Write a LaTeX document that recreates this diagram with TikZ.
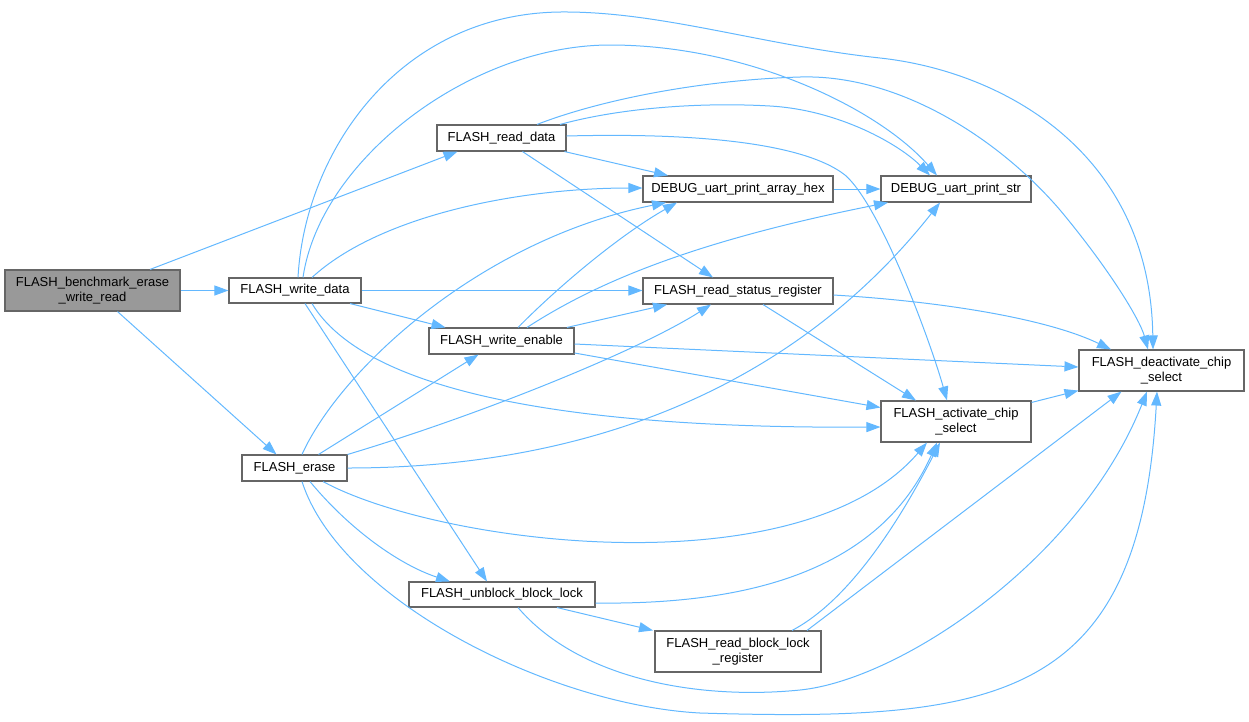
\documentclass[tikz,border=0pt]{standalone}
\usepackage{fontspec}
\setmainfont{Liberation Sans}
\usetikzlibrary{arrows.meta,calc}
\definecolor{edgec}{HTML}{63B8FF}
\definecolor{bordc}{HTML}{666666}
\definecolor{rootc}{HTML}{999999}
\begin{document}
\begin{tikzpicture}[x=1pt,y=-1pt,
  fn/.style={draw=bordc, fill=white, line width=1.1pt, inner sep=0pt, align=center,
    font=\fontsize{13}{15}\selectfont},
  ed/.style={draw=edgec, line width=1pt, -{Triangle[length=14pt,width=10pt]}}]
\useasboundingbox (0,0) rectangle (1249,721);

% nodes
\node[fn, fill=rootc, minimum width=175pt, minimum height=41pt] (a) at (92.5,290.5) {FLASH\_benchmark\_erase\\\_write\_read};
\node[fn, minimum width=132pt, minimum height=25pt] (wd) at (295,290.5) {FLASH\_write\_data};
\node[fn, minimum width=105pt, minimum height=26pt] (er) at (294.5,468) {FLASH\_erase};
\node[fn, minimum width=129pt, minimum height=26pt] (rd) at (501.5,138) {FLASH\_read\_data};
\node[fn, minimum width=145pt, minimum height=26pt] (we) at (501.5,341) {FLASH\_write\_enable};
\node[fn, minimum width=186pt, minimum height=25pt] (ub) at (502,594.5) {FLASH\_unblock\_block\_lock};
\node[fn, minimum width=190pt, minimum height=26pt] (hex) at (738,189) {DEBUG\_uart\_print\_array\_hex};
\node[fn, minimum width=190pt, minimum height=26pt] (rsr) at (738,291) {FLASH\_read\_status\_register};
\node[fn, minimum width=166pt, minimum height=41pt] (rbl) at (738,651.5) {FLASH\_read\_block\_lock\\\_register};
\node[fn, minimum width=150pt, minimum height=26pt] (str) at (956,189) {DEBUG\_uart\_print\_str};
\node[fn, minimum width=150pt, minimum height=41pt] (act) at (956,421.5) {FLASH\_activate\_chip\\\_select};
\node[fn, minimum width=165pt, minimum height=41pt] (deact) at (1161.5,370.5) {FLASH\_deactivate\_chip\\\_select};

% edges from root
\draw[ed] (a.east) -- (wd.west);
\draw[ed] ($(a.north)+(57.5,0)$) -- ($(rd.south)+(-44,0)$);
\draw[ed] ($(a.south)+(25,0)$) -- ($(er.north)+(-18,0)$);

% FLASH_read_data
\draw[ed] ($(rd.south)+(63,0)$) -- ($(hex.north)+(-70,0)$);
\draw[ed] ($(rd.south)+(21,0)$) -- ($(rsr.north)+(-25,0)$);
\draw[ed] ($(rd.north)+(58.5,0)$) .. controls (620,108) and (700,102) .. (770,106)
  .. controls (840,110) and (900,145) .. ($(str.north)+(-26,0)$);
\draw[ed] ($(rd.north)+(35.5,0)$) .. controls (600,100) and (700,80) .. (800,77)
  .. controls (900,74) and (1000,140) .. (1060,210)
  .. controls (1110,270) and (1140,320) .. ($(deact.north)+(-13.5,0)$);
\draw[ed] ($(rd.east)+(0,-2)$) .. controls (680,133) and (800,140) .. (845,175)
  .. controls (880,205) and (930,340) .. ($(act.north)+(-9,0)$);

% FLASH_write_data
\draw[ed] ($(wd.north)+(3,0)$) .. controls (305,150) and (400,14) .. (560,12)
  .. controls (660,11) and (760,45) .. (880,58)
  .. controls (1000,71) and (1150,150) .. ($(deact.north)+(-8.5,0)$);
\draw[ed] ($(wd.north)+(8,0)$) .. controls (320,160) and (470,45) .. (610,45)
  .. controls (750,45) and (880,110) .. ($(str.north)+(-19,0)$);
\draw[ed] ($(wd.north)+(17,0)$) .. controls (380,215) and (520,188) .. ($(hex.west)+(0,-1)$);
\draw[ed] (wd.east) -- (rsr.west |- wd.east);
\draw[ed] ($(wd.south)+(55,0)$) -- ($(we.north)+(-56,0)$);
\draw[ed] ($(wd.south)+(17,0)$) .. controls (365,392) and (570,429) .. ($(act.west)+(0,5.5)$);
\draw[ed] ($(wd.south)+(10,0)$) -- ($(ub.north)+(-15,0)$);

% FLASH_erase
\draw[ed] ($(er.north)+(24,0)$) -- ($(we.south)+(-23,0)$);
\draw[ed] ($(er.north)+(7.5,0)$) .. controls (340,370) and (480,240) .. ($(hex.south)+(-72,0)$);
\draw[ed] (er.north east) .. controls (480,415) and (640,350) .. ($(rsr.south)+(-27,0)$);
\draw[ed] (er.east) .. controls (600,468) and (800,380) .. ($(str.south)+(-16,0)$);
\draw[ed] ($(er.south)+(28.5,0)$) .. controls (440,545) and (800,590) .. ($(act.south)+(-29,0)$);
\draw[ed] ($(er.south)+(15.5,0)$) .. controls (350,530) and (400,565) .. ($(ub.north)+(-52,0)$);
\draw[ed] ($(er.south)+(7.5,0)$) .. controls (340,600) and (550,705) .. (700,713)
  .. controls (1000,722) and (1140,700) .. ($(deact.south)+(-4.5,0)$);

% FLASH_write_enable
\draw[ed] ($(we.north)+(16.5,0)$) .. controls (560,285) and (620,235) .. ($(hex.south)+(-61,0)$);
\draw[ed] ($(we.north)+(25.5,0)$) .. controls (600,280) and (700,240) .. ($(str.south)+(-68,0)$);
\draw[ed] ($(we.north)+(65.5,0)$) -- ($(rsr.south)+(-71,0)$);
\draw[ed] ($(we.east)+(0,3)$) -- ($(deact.west)+(0,-3.5)$);
\draw[ed] ($(we.east)+(0,12)$) -- ($(act.west)+(0,-14)$);

% FLASH_read_status_register
\draw[ed] ($(rsr.east)+(0,4)$) .. controls (950,302) and (1050,320) .. ($(deact.north)+(-50.5,0)$);
\draw[ed] ($(rsr.south)+(25,0)$) -- ($(act.north)+(-40,0)$);

% DEBUG_uart_print_array_hex
\draw[ed] (hex.east) -- (str.west);

% FLASH_unblock_block_lock
\draw[ed] ($(ub.south)+(55,0)$) -- ($(rbl.north)+(-85,0)$);
\draw[ed] ($(ub.east)+(0,8.5)$) .. controls (750,605) and (880,570) .. ($(act.south)+(-19,0)$);
\draw[ed] ($(ub.south)+(16,0)$) .. controls (580,680) and (700,700) .. (800,690)
  .. controls (900,680) and (1080,560) .. ($(deact.south)+(-14.5,0)$);

% FLASH_read_block_lock_register
\draw[ed] ($(rbl.north)+(54,0)$) .. controls (850,600) and (900,520) .. ($(act.south)+(-16,0)$);
\draw[ed] ($(rbl.north)+(69,0)$) -- ($(deact.south)+(-40,0)$);

% FLASH_activate_chip_select
\draw[ed] ($(act.north east)+(0,2)$) -- ($(deact.south west)+(0,-1)$);
\end{tikzpicture}
\end{document}
